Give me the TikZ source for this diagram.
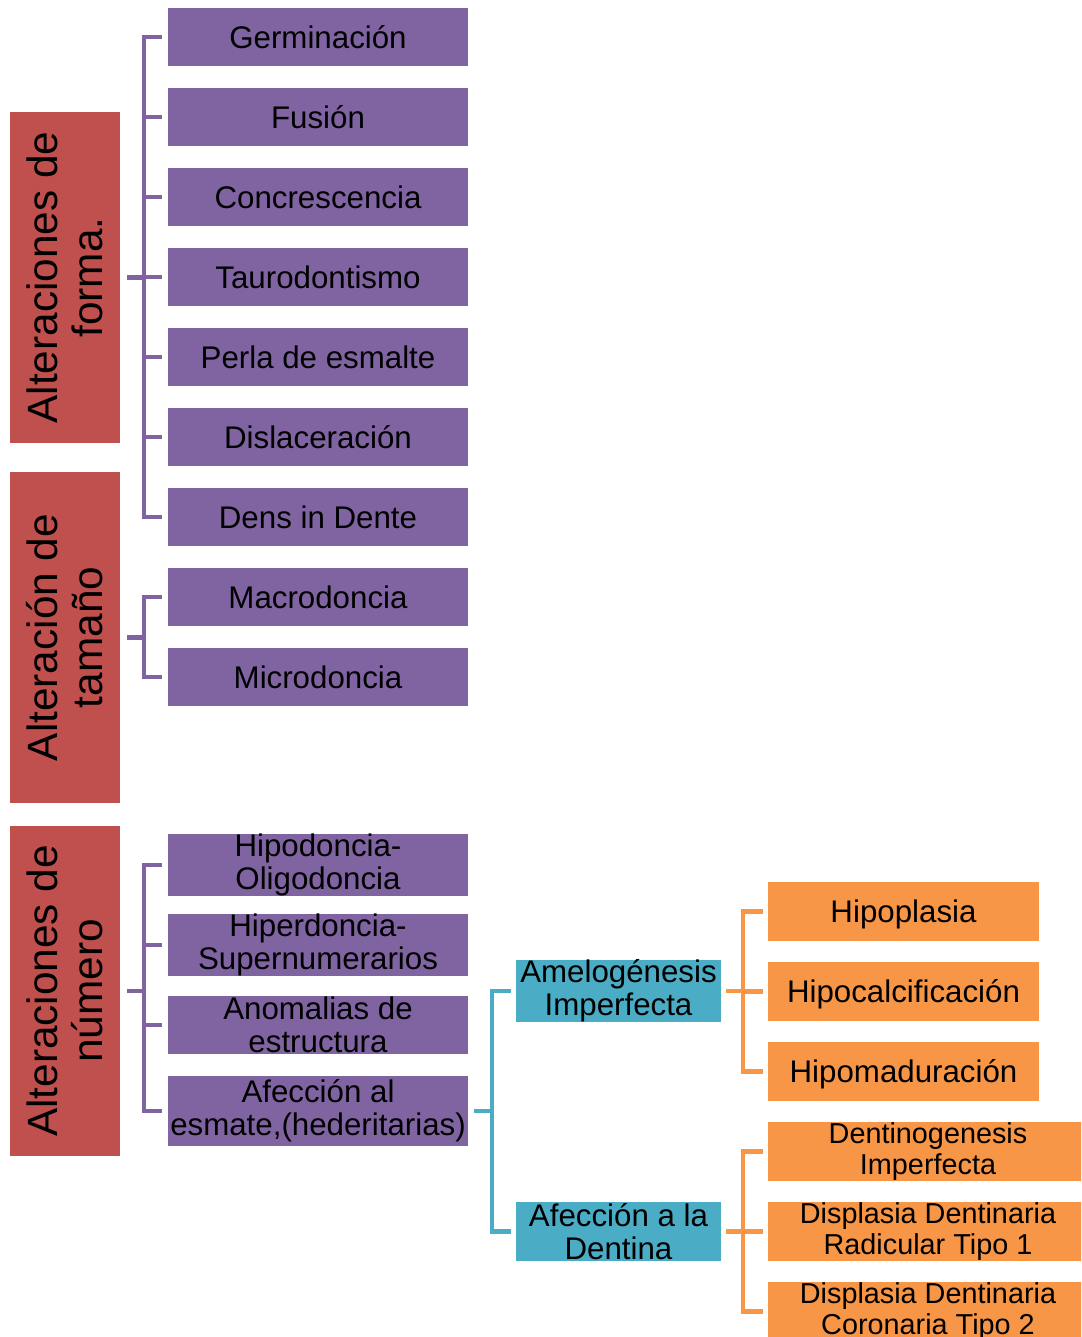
\documentclass[tikz,border=0pt]{standalone}
\usepackage{fontspec}
\setmainfont{Liberation Sans}
\usetikzlibrary{calc}
\definecolor{morado}{HTML}{8064A2}
\definecolor{rojo}{HTML}{C0504D}
\definecolor{turquesa}{HTML}{4BACC6}
\definecolor{naranja}{HTML}{F79646}
\tikzset{
  grupo/.style={fill=rojo, rotate=90, minimum width=6.62cm, minimum height=2.2cm,
    inner sep=0pt, align=center, font=\fontsize{24.1}{25.5}\selectfont},
  caja/.style={inner sep=0pt, text height=0.45cm, text depth=0pt,
    font=\fontsize{17.8}{18.7}\selectfont},
  dos/.style={text height={}, text depth={}, align=center},
  hoja/.style={caja, fill=morado, minimum width=6cm, minimum height=1.16cm},
  tipo/.style={caja, fill=turquesa, minimum width=4.1cm, minimum height=1.18cm},
  rasgo/.style={caja, fill=naranja, minimum width=5.42cm, minimum height=1.18cm},
  rasgolargo/.style={rasgo, dos, minimum width=6.4cm, font=\fontsize{16.4}{17.4}\selectfont},
  rama/.style={draw=#1, line width=2.3pt}
}
\begin{document}
\begin{tikzpicture}[x=0.02cm, y=-0.02cm]
  \useasboundingbox (0,0) rectangle (1081,1337);
  \clip (0,0) rectangle (1081,1337);

  \node[grupo] (forma) at (65,277.5) {Alteraciones de\\forma.};
  \node[grupo] (tamano) at (65,637.5) {Alteración de\\tamaño};
  \node[grupo, minimum width=6.6cm] (numero) at (65,991) {Alteraciones de\\número};

  \node[hoja] (germ) at (318,37) {Germinación};
  \node[hoja] (fusion) at (318,117) {Fusión};
  \node[hoja] (concre) at (318,197) {Concrescencia};
  \node[hoja] (tauro) at (318,277) {Taurodontismo};
  \node[hoja] (perla) at (318,357) {Perla de esmalte};
  \node[hoja] (dislac) at (318,437) {Dislaceración};
  \node[hoja] (dens) at (318,517) {Dens in Dente};
  \node[hoja] (macro) at (318,597) {Macrodoncia};
  \node[hoja] (micro) at (318,677) {Microdoncia};
  \node[hoja, dos] (hipodon) at (318,865) {Hipodoncia-\\Oligodoncia};
  \node[hoja, dos] (hiperdon) at (318,945) {Hiperdoncia-\\Supernumerarios};
  \node[hoja, dos] (anomal) at (318,1025) {Anomalias de\\estructura};
  \node[hoja, dos, minimum height=1.4cm] (afesm) at (318,1111) {Afección al\\esmate,(hederitarias)};

  \node[tipo, dos] (amelo) at (618.5,991) {Amelogénesis\\Imperfecta};
  \node[tipo, dos] (dentina) at (618.5,1231.5) {Afección a la\\Dentina};

  \node[rasgo] (hipopl) at (903.5,911.5) {Hipoplasia};
  \node[rasgo] (hipocal) at (903.5,991.5) {Hipocalcificación};
  \node[rasgo] (hipomad) at (903.5,1071.5) {Hipomaduración};
  \node[rasgolargo] (dentino) at (928,1151.5) {Dentinogenesis\\Imperfecta};
  \node[rasgolargo] (displrad) at (928,1231.5) {Displasia Dentinaria\\Radicular Tipo 1};
  \node[rasgolargo] (displcor) at (928,1311.5) {Displasia Dentinaria\\Coronaria Tipo 2};

  \draw[rama=morado] ($(forma.south)+(7,0)$) -- ++(17,0) coordinate (l1);
  \draw[rama=morado] ($(germ.west)+(-6,0)$) -- (l1 |- germ.west) -- (l1 |- dens.west) -- ($(dens.west)+(-6,0)$);
  \foreach \n in {fusion,concre,tauro,perla,dislac}
    \draw[rama=morado] (l1 |- \n.west) -- ($(\n.west)+(-6,0)$);

  \draw[rama=morado] ($(tamano.south)+(7,0)$) -- ++(17,0) coordinate (l2);
  \draw[rama=morado] ($(macro.west)+(-6,0)$) -- (l2 |- macro.west) -- (l2 |- micro.west) -- ($(micro.west)+(-6,0)$);

  \draw[rama=morado] ($(numero.south)+(7,0)$) -- ++(17,0) coordinate (l3);
  \draw[rama=morado] ($(hipodon.west)+(-6,0)$) -- (l3 |- hipodon.west) -- (l3 |- afesm.west) -- ($(afesm.west)+(-6,0)$);
  \foreach \n in {hiperdon,anomal}
    \draw[rama=morado] (l3 |- \n.west) -- ($(\n.west)+(-6,0)$);

  \draw[rama=turquesa] ($(afesm.east)+(6,0)$) -- ++(18,0) coordinate (l4);
  \draw[rama=turquesa] ($(amelo.west)+(-5,0)$) -- (l4 |- amelo.west) -- (l4 |- dentina.west) -- ($(dentina.west)+(-5,0)$);

  \draw[rama=naranja] ($(amelo.east)+(5,0)$) -- ++(17,0) coordinate (l5);
  \draw[rama=naranja] ($(hipopl.west)+(-5,0)$) -- (l5 |- hipopl.west) -- (l5 |- hipomad.west) -- ($(hipomad.west)+(-5,0)$);
  \draw[rama=naranja] (l5 |- hipocal.west) -- ($(hipocal.west)+(-5,0)$);

  \draw[rama=naranja] ($(dentina.east)+(5,0)$) -- ++(17,0) coordinate (l6);
  \draw[rama=naranja] ($(dentino.west)+(-5,0)$) -- (l6 |- dentino.west) -- (l6 |- displcor.west) -- ($(displcor.west)+(-5,0)$);
  \draw[rama=naranja] (l6 |- displrad.west) -- ($(displrad.west)+(-5,0)$);
\end{tikzpicture}
\end{document}
